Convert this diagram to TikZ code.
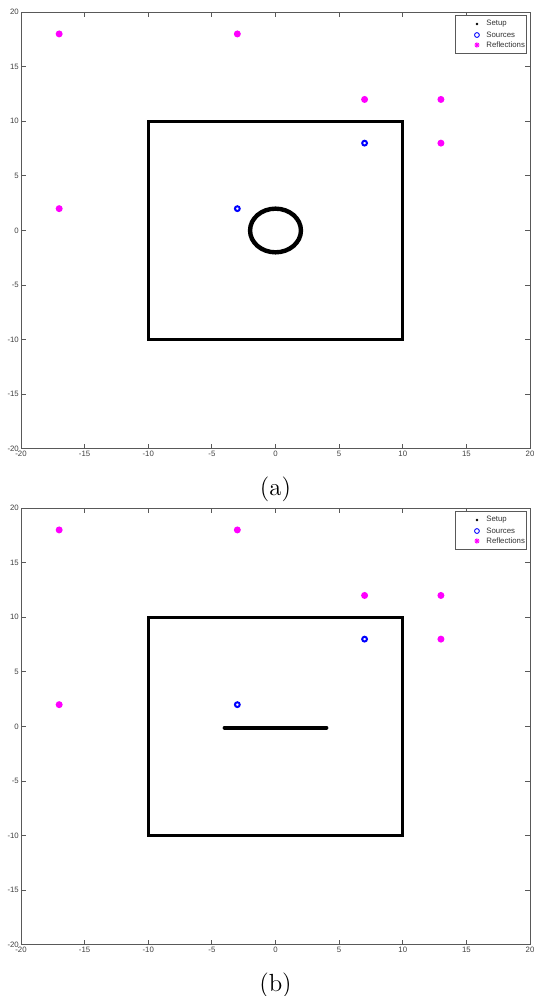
\documentclass[tikz,border=0pt]{standalone}
\usepackage{fontspec}
\newfontfamily\axisfont{Liberation Sans}
\usetikzlibrary{positioning}
\definecolor{refmag}{RGB}{255,0,255}
\definecolor{srcblue}{RGB}{0,0,255}
\tikzset{
  panel/.style={shift={(275.5,#1)},x=6.3625pt,y=5.46pt},
  frame/.style={draw=black!65, line width=0.5pt},
  ticklabel/.style={font=\axisfont\fontsize{3.9}{4}\selectfont, text=black!75, inner sep=0.9pt},
  setup/.style={draw=black, line width=1.5pt},
  source/.style={circle, draw=srcblue, line width=1pt, inner sep=0pt, minimum size=2.4pt},
  reflection/.style={circle, fill=refmag, inner sep=0pt, minimum size=3.5pt},
  legendbox/.style={draw=black!65, line width=0.4pt, fill=white},
  legendtext/.style={font=\axisfont\fontsize{3.9}{4}\selectfont, text=black!80, anchor=west, inner sep=0pt},
  caption/.style={font=\fontsize{12.4}{14}\selectfont}
}

\begin{document}
\begin{tikzpicture}[x=0.5pt,y=0.5pt]
  \useasboundingbox (0,0) rectangle (534,996);
  \foreach \pl/\cy in {a/765.5,b/269.5}{
    \begin{scope}[panel=\cy]
      % axes box and ticks
      \draw[frame] (-20,-20) rectangle (20,20);
      \foreach \t in {-15,-10,...,15}{
        \draw[frame] (\t,-20) -- ++(0,2.5pt);
        \draw[frame] (\t,20) -- ++(0,-2.5pt);
        \draw[frame] (-20,\t) -- ++(2.5pt,0);
        \draw[frame] (20,\t) -- ++(-2.5pt,0);
      }
      \foreach \t in {-20,-15,...,20}{
        \node[ticklabel,anchor=north] (x\pl\t) at (\t,-20) {\t};
        \node[ticklabel,anchor=east] (y\pl\t) at (-20,\t) {\t};
      }
      % room
      \draw[setup] (-10,-10) rectangle (10,10);
      % sources and reflections
      \foreach \px/\py [count=\i] in {-3/2,7/8}
        \node[source] (src\pl\i) at (\px,\py) {};
      \foreach \px/\py [count=\i] in {-17/18,-3/18,7/12,13/12,13/8,-17/2}
        \node[reflection] (ref\pl\i) at (\px,\py) {};
      % legend
      \draw[legendbox] (14.11,16.25) rectangle (19.69,19.73);
      \node[circle, fill=black, inner sep=0pt, minimum size=1.4pt] (lgsetup\pl) at (15.83,18.91) {};
      \node[circle, draw=srcblue, line width=0.45pt, inner sep=0pt, minimum size=2.4pt] (lgsrc\pl) at (15.83,17.9) {};
      \node[inner sep=0pt] (lgref\pl) at (15.83,16.99) {};
      \draw[refmag, line width=0.45pt] (lgref\pl) ++(-1.3pt,0) -- ++(2.6pt,0)
        (lgref\pl) ++(0,-1.3pt) -- ++(0,2.6pt)
        (lgref\pl) ++(-0.9pt,-0.9pt) -- ++(1.8pt,1.8pt)
        (lgref\pl) ++(-0.9pt,0.9pt) -- ++(1.8pt,-1.8pt);
      \node[legendtext] (lgsetupt\pl) at (16.54,18.91) {Setup};
      \node[legendtext] (lgsrct\pl) at (16.54,17.9) {Sources};
      \node[legendtext] (lgreft\pl) at (16.54,16.99) {Reflections};
      \node[caption] (cap\pl) at (0,-23.7) {(\pl)};
    \end{scope}
  }
  % obstacles
  \begin{scope}[panel=765.5]
    \draw[setup, line width=2.2pt] (0,0) ellipse [x radius=2, y radius=2];
  \end{scope}
  \begin{scope}[panel=269.5]
    \draw[setup, line width=2pt, line cap=round] (-4,-0.1) -- (4,-0.1);
  \end{scope}
\end{tikzpicture}
\end{document}
